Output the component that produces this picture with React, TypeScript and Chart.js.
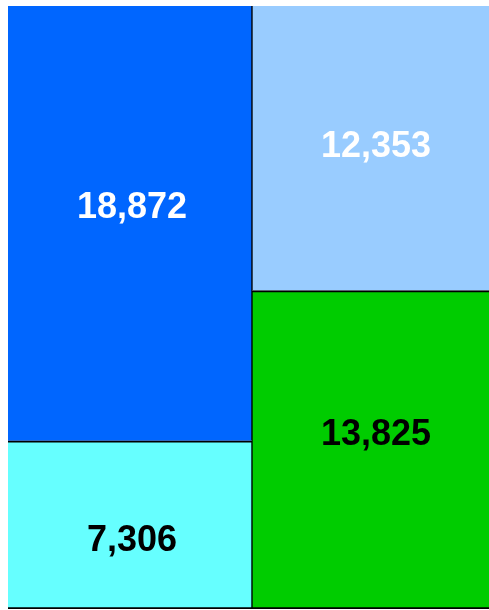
import React, { useEffect, useRef } from "react";
import { Chart, registerables } from "chart.js";

Chart.register(...registerables);

const columns = ["A", "B"];
const bottomValues = [7306, 13825];
const topValues = [18872, 12353];
const bottomColors = ["#66ffff", "#00cc00"];
const topColors = ["#0066ff", "#99ccff"];
const bottomTextColors = ["#000000", "#000000"];
const topTextColors = ["#ffffff", "#ffffff"];
const bottomLabelShift = [16, -15];
const topLabelShift = [-15, -1];

const fmt = (v: number) => v.toLocaleString("en-US");

const labelPlugin = {
  id: "tileLabels",
  afterDatasetsDraw(chart: any) {
    const ctx = chart.ctx;
    ctx.save();
    ctx.font = "bold 36px 'Liberation Sans', Arial, sans-serif";
    ctx.textAlign = "center";
    ctx.textBaseline = "middle";
    chart.data.datasets.forEach((ds: any, di: number) => {
      const meta = chart.getDatasetMeta(di);
      meta.data.forEach((el: any, i: number) => {
        const { x, y, base } = el.getProps(["x", "y", "base"], true);
        const cy = (y + base) / 2 + ds.labelShift[i];
        ctx.fillStyle = ds.textColors[i];
        ctx.fillText(fmt(ds.data[i]), x + 2, cy);
      });
    });
    ctx.restore();
  },
};

export default function App() {
  const ref = useRef<HTMLCanvasElement | null>(null);
  useEffect(() => {
    if (!ref.current) return;
    const chart = new Chart(ref.current, {
      type: "bar",
      data: {
        labels: columns,
        datasets: [
          {
            data: bottomValues,
            backgroundColor: bottomColors,
            borderColor: "#000000",
            borderWidth: [
              { top: 2, bottom: 2, left: 0, right: 1 },
              { top: 2, bottom: 2, left: 1, right: 0 },
            ],
            borderSkipped: false,
            textColors: bottomTextColors,
            labelShift: bottomLabelShift,
          } as any,
          {
            data: topValues,
            backgroundColor: topColors,
            borderColor: "#000000",
            borderWidth: [
              { top: 0, bottom: 0, left: 0, right: 1 },
              { top: 0, bottom: 0, left: 1, right: 0 },
            ],
            borderSkipped: false,
            textColors: topTextColors,
            labelShift: topLabelShift,
          } as any,
        ],
      },
      options: {
        animation: false,
        responsive: true,
        maintainAspectRatio: false,
        layout: { padding: { top: 6, bottom: 1, left: 0, right: 0 } },
        datasets: { bar: { barPercentage: 1, categoryPercentage: 1 } },
        plugins: { legend: { display: false }, tooltip: { enabled: false } },
        scales: {
          x: { stacked: true, display: false },
          y: { stacked: true, display: false, min: 0, max: 26178 },
        },
      },
      plugins: [labelPlugin],
    });
    return () => chart.destroy();
  }, []);
  return (
    <div style={{ position: "fixed", left: 0, top: 0, width: 489, height: 610, overflow: "hidden", background: "#fff" }}>
      <div style={{ position: "absolute", left: 8, top: 0, width: 488, height: 610 }}>
        <canvas ref={ref} />
      </div>
    </div>
  );
}
